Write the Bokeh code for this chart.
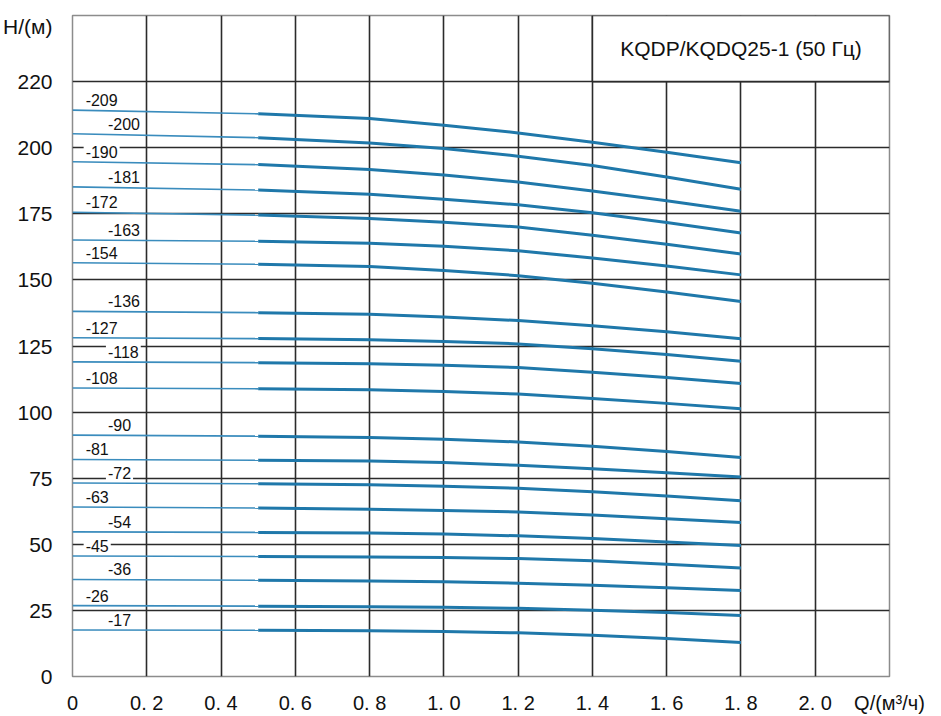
from bokeh.plotting import figure
from bokeh.models import Range1d, FixedTicker
from bokeh.core.properties import value
from bokeh.embed import file_html
from bokeh.resources import INLINE

# Flow points (m3/h)
q = [0.0, 0.5, 0.8, 1.0, 1.2, 1.4, 1.6, 1.8]

# Head curves (m)
h_209 = [214.2, 212.8, 211.0, 208.5, 205.6, 202.1, 198.3, 194.3]
h_200 = [205.3, 203.8, 201.8, 199.7, 196.8, 193.3, 188.9, 184.3]
h_190 = [194.7, 193.6, 191.8, 189.7, 187.0, 183.6, 179.9, 176.0]
h_181 = [185.2, 184.0, 182.4, 180.5, 178.4, 175.4, 171.7, 167.7]
h_172 = [175.6, 174.5, 173.2, 171.8, 170.0, 166.9, 163.5, 159.8]
h_163 = [165.1, 164.6, 163.9, 162.7, 161.0, 158.3, 155.3, 151.9]
h_154 = [156.5, 155.9, 155.1, 153.6, 151.6, 148.7, 145.4, 141.8]
h_136 = [138.1, 137.6, 137.0, 136.0, 134.6, 132.7, 130.4, 127.7]
h_127 = [128.1, 127.8, 127.4, 126.7, 125.8, 124.0, 121.8, 119.2]
h_118 = [119.0, 118.7, 118.3, 117.7, 116.9, 115.1, 113.1, 110.8]
h_108 = [109.1, 108.8, 108.5, 107.8, 106.8, 105.1, 103.3, 101.3]
h_90 = [91.3, 90.9, 90.4, 89.7, 88.7, 87.1, 85.1, 82.8]
h_81 = [82.1, 81.8, 81.5, 80.9, 79.9, 78.6, 77.1, 75.5]
h_72 = [73.2, 72.9, 72.5, 72.0, 71.2, 69.9, 68.3, 66.5]
h_63 = [64.1, 63.7, 63.3, 62.8, 62.2, 61.1, 59.7, 58.2]
h_54 = [54.7, 54.5, 54.3, 53.9, 53.2, 52.2, 50.9, 49.5]
h_45 = [45.6, 45.4, 45.2, 45.0, 44.6, 43.8, 42.5, 41.0]
h_36 = [36.7, 36.4, 36.1, 35.8, 35.3, 34.5, 33.6, 32.5]
h_26 = [26.8, 26.6, 26.4, 26.2, 25.8, 25.1, 24.2, 23.1]
h_17 = [17.6, 17.5, 17.3, 17.0, 16.5, 15.6, 14.4, 12.9]

models = ["-209", "-200", "-190", "-181", "-172", "-163", "-154", "-136", "-127", "-118",
          "-108", "-90", "-81", "-72", "-63", "-54", "-45", "-36", "-26", "-17"]
curves = [h_209, h_200, h_190, h_181, h_172, h_163, h_154, h_136, h_127, h_118,
          h_108, h_90, h_81, h_72, h_63, h_54, h_45, h_36, h_26, h_17]

x_ticks = [0.0, 0.2, 0.4, 0.6, 0.8, 1.0, 1.2, 1.4, 1.6, 1.8, 2.0]
x_tick_labels = ["0", "0. 2", "0. 4", "0. 6", "0. 8", "1. 0", "1. 2", "1. 4", "1. 6", "1. 8", "2. 0"]
y_ticks = [0, 25, 50, 75, 100, 125, 150, 175, 200, 225]
y_tick_labels = ["0", "25", "50", "75", "100", "125", "150", "175", "200", "220"]

title_text = "KQDP/KQDQ25-1 (50 Гц)"
x_title = "Q/(м³/ч)"
y_title = "H/(м)"

X_MAX = 2.2
Y_MAX = 250
# where the axis titles sit along their axes
X_TITLE_AT = X_MAX
Y_TITLE_AT = 246
FONT = "Liberation Sans"
GRID = "#2b2b2b"

p = figure(width=941, height=716, x_range=Range1d(0, X_MAX), y_range=Range1d(0, Y_MAX),
           output_backend="svg", toolbar_location=None, title=None,
           min_border_left=70, min_border_right=52, min_border_top=15, min_border_bottom=39)
p.background_fill_color = "white"
p.border_fill_color = "white"
p.outline_line_color = "#8c8c8c"
p.outline_line_width = 1.5

# grid
p.xgrid.ticker = FixedTicker(ticks=x_ticks[1:] + [X_MAX])
p.ygrid.ticker = FixedTicker(ticks=y_ticks)
for g in (p.xgrid, p.ygrid):
    g.grid_line_color = GRID
    g.grid_line_width = 1.6
    g.grid_line_alpha = 1.0

# axes (tick labels plus the axis titles at the axis ends)
x_lab = dict(zip(x_ticks, x_tick_labels))
x_lab[X_TITLE_AT] = x_title
y_lab = dict(zip(y_ticks, y_tick_labels))
y_lab[Y_TITLE_AT] = y_title
p.xaxis.ticker = FixedTicker(ticks=x_ticks + [X_TITLE_AT])
p.xaxis.major_label_overrides = x_lab
p.yaxis.ticker = FixedTicker(ticks=y_ticks + [Y_TITLE_AT])
p.yaxis.major_label_overrides = y_lab
for ax in (p.xaxis, p.yaxis):
    ax.axis_line_color = None
    ax.major_tick_line_color = None
    ax.minor_tick_line_color = None
    ax.major_tick_out = 0
    ax.major_tick_in = 0
    ax.major_label_text_font = FONT
    ax.major_label_text_color = "#111111"
p.xaxis.major_label_text_font_size = "20px"
p.xaxis.major_label_standoff = 15
p.yaxis.major_label_text_font_size = "21px"
p.yaxis.major_label_standoff = 20

# title cell in the upper right
p.quad(left=[x_ticks[7]], right=[X_MAX], bottom=[y_ticks[-1]], top=[Y_MAX],
       fill_color="white", line_color=GRID, line_width=1.6)
p.text(x=[(x_ticks[7] + X_MAX) / 2], y=[(y_ticks[-1] + Y_MAX) / 2], text=[title_text],
       text_align="center", text_baseline="middle", text_font=value(FONT),
       text_font_size="21px", text_color="#111111")

# curves: thin start segment, thick working range
thin_xs = [q[:2] for _ in curves]
thin_ys = [h[:2] for h in curves]
thick_xs = [q[1:] for _ in curves]
thick_ys = [h[1:] for h in curves]
p.multi_line(thin_xs, thin_ys, line_color="#3a8cbd", line_width=1.6)
p.multi_line(thick_xs, thick_ys, line_color="#1f78aa", line_width=3, line_join="round")

# curve labels
label_x = [0.03 if i % 2 == 0 else 0.09 for i in range(len(models))]
label_y = [h[0] for h in curves]
p.text(x=label_x, y=label_y, text=models, text_align="left", text_baseline="middle",
       y_offset=-10, text_font=value(FONT), text_font_size="16px", text_color="#111111",
       background_fill_color="white", padding=2)

open("out.html", "w").write(file_html(p, INLINE))
